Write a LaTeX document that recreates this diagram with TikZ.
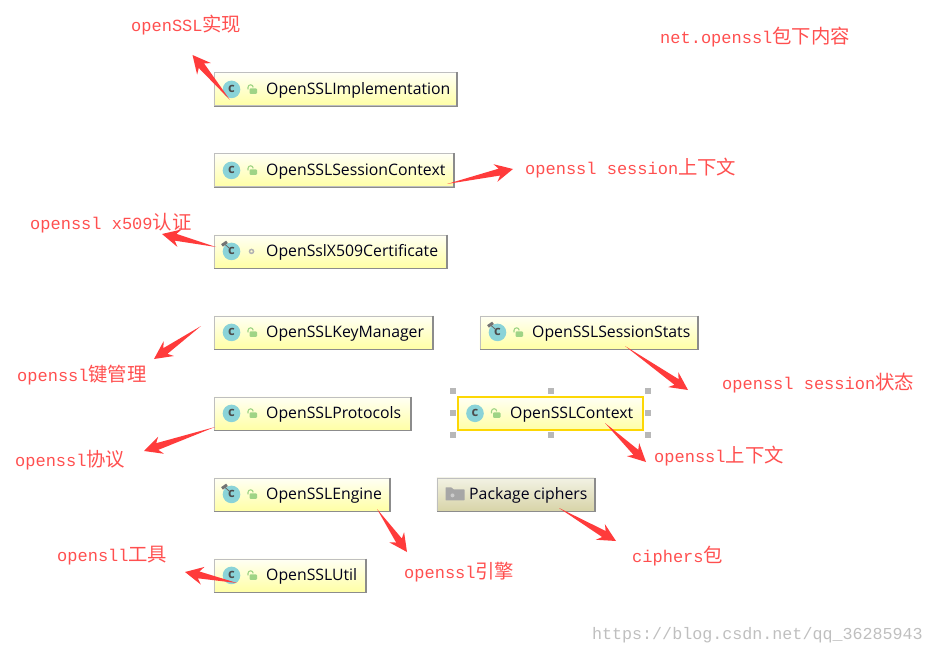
\documentclass[tikz,border=0pt]{standalone}
\usepackage{fontspec}
\setmonofont{Liberation Mono}
\setsansfont{Open Sans}
\newfontfamily\cjk[Scale=1.14]{Noto Sans CJK SC}
\usetikzlibrary{calc}
\definecolor{notered}{HTML}{FF3B3B}
\definecolor{circleblue}{HTML}{8AD3D8}
\definecolor{lockgreen}{HTML}{9FD486}
\definecolor{pkgtop}{HTML}{F2F2E4}
\definecolor{pkgbottom}{HTML}{D8D4A8}
\tikzset{
  classbox/.style={draw=black!25, line width=0.8pt, top color=yellow!4, bottom color=yellow!35, minimum height=33pt, inner sep=0pt, anchor=north west},
  pkgbox/.style={classbox, top color=pkgtop, bottom color=pkgbottom},
  boxname/.style={anchor=west, inner sep=0pt, font=\sffamily\fontsize{15.8}{15.8}\selectfont, text=black!90!blue},
  notelabel/.style={anchor=west, inner sep=0pt, text=notered!90!white, font=\ttfamily\fontsize{17}{17}\selectfont},
  grip/.style={fill=black!28, minimum size=6pt, inner sep=0pt},
  arrowfill/.style={fill=notered},
}
% box with its name, no icons
\newcommand{\plainbox}[5][classbox]{
  \node[#1, minimum width=#5pt] (#2) at (#3,#4) {};
  \draw[black!45, line width=1.4pt] (#2.north east) -- (#2.south east) -- (#2.south west);
}
% class icon and lock
\newcommand{\classicon}[1]{
  \fill[circleblue] ($(#1.west)+(18,0)$) circle (8.8pt);
  \node[inner sep=0pt, text=black!70, font=\sffamily\bfseries\fontsize{13}{13}\selectfont] at ($(#1.west)+(18,-0.5)$) {c};
}
\newcommand{\lockicon}[1]{
  \draw[lockgreen, line width=1.1pt] ($(#1.west)+(34.5,0)$) -- ($(#1.west)+(34.5,-2)$) arc (180:0:2.6pt);
  \fill[lockgreen, rounded corners=1pt] ($(#1.west)+(36,-1)$) rectangle ($(#1.west)+(43.5,4.5)$);
}
\newcommand{\pinicon}[1]{
  \draw[black!60, line width=0.8pt] ($(#1.west)+(11,-7.5)$) -- ($(#1.west)+(16,-3)$);
  \draw[black!55, line width=3pt] ($(#1.west)+(8.5,-6)$) -- ($(#1.west)+(13.5,-9.5)$);
}
% tapered note arrow
\newcommand{\notearrow}[2]{
  \fill[arrowfill] (#1) -- ($(#2)!14pt!(#1)!3.5pt!90:(#1)$) -- ($(#2)!18pt!(#1)!9pt!90:(#1)$) -- (#2)
    -- ($(#2)!18pt!(#1)!9pt!-90:(#1)$) -- ($(#2)!14pt!(#1)!3.5pt!-90:(#1)$) -- cycle;
}
\begin{document}
\begin{tikzpicture}[x=1pt, y=-1pt]
    \useasboundingbox (0,0) rectangle (934,655);

    % Cajas
    \plainbox{impl}{213.5}{72.5}{242.5}
    \plainbox{sessctx}{213.5}{153.5}{239.5}
    \plainbox{xcert}{213.5}{234.5}{232.5}
    \plainbox{keymgr}{213.5}{315.5}{218.5}
    \plainbox{protos}{213.5}{396.5}{196.5}
    \plainbox{engine}{213.5}{477.5}{175.5}
    \plainbox{util}{213.5}{558.5}{151.5}
    \plainbox{stats}{479.5}{315.5}{217.5}
    \plainbox[pkgbox]{ciphers}{436.5}{477.5}{157.5}
    \node[classbox, draw=yellow!75!orange, line width=1.6pt, minimum width=185pt] (context) at (457,396) {};

    % Iconos
    \foreach \n in {impl,sessctx,xcert,keymgr,protos,engine,util,stats,context} {
      \classicon{\n}
    }
    \foreach \n in {impl,sessctx,keymgr,protos,engine,util,stats,context} {
      \lockicon{\n}
    }
    \foreach \n in {xcert,stats,engine} {
      \pinicon{\n}
    }
    \draw[black!30, line width=1.5pt] ($(xcert.west)+(38,0)$) circle (2pt);
    \fill[black!35, rounded corners=0.5pt] ($(ciphers.west)+(9,-7)$) -- ($(ciphers.west)+(15,-7)$) -- ($(ciphers.west)+(17,-5)$) -- ($(ciphers.west)+(28,-5)$) -- ($(ciphers.west)+(28,6)$) -- ($(ciphers.west)+(9,6)$) -- cycle;
    \fill[white!80!black] ($(ciphers.west)+(16,1)$) circle (2pt);

    % Nombres
    \node[boxname] (impltext) at ($(impl.west)+(52.5,1)$) {OpenSSLImplementation};
    \node[boxname] (sessctxtext) at ($(sessctx.west)+(52.5,1)$) {OpenSSLSessionContext};
    \node[boxname] (xcerttext) at ($(xcert.west)+(52.5,1)$) {OpenSslX509Certificate};
    \node[boxname] (keymgrtext) at ($(keymgr.west)+(52.5,1)$) {OpenSSLKeyManager};
    \node[boxname] (protostext) at ($(protos.west)+(52.5,1)$) {OpenSSLProtocols};
    \node[boxname] (enginetext) at ($(engine.west)+(52.5,1)$) {OpenSSLEngine};
    \node[boxname] (utiltext) at ($(util.west)+(52.5,1)$) {OpenSSLUtil};
    \node[boxname] (statstext) at ($(stats.west)+(52.5,1)$) {OpenSSLSessionStats};
    \node[boxname] (contexttext) at ($(context.west)+(53,1)$) {OpenSSLContext};
    \node[boxname] (cipherstext) at ($(ciphers.west)+(32.5,1)$) {Package ciphers};

    % Marcas de seleccion
    \foreach \gx in {453,551,648} {
      \node[grip] at (\gx,391) {};
      \node[grip] at (\gx,435) {};
    }
    \node[grip] (gripleft) at (453,413) {};
    \node[grip] (gripright) at (648,413) {};

    % Notas
    \node[notelabel] (implnote) at (131,25) {openSSL{\cjk 实现}};
    \node[notelabel] (pkgnote) at (660,37) {net.openssl{\cjk 包下内容}};
    \node[notelabel] (sessctxnote) at (525,168) {openssl session{\cjk 上下文}};
    \node[notelabel] (xcertnote) at (30,223) {openssl x509{\cjk 认证}};
    \node[notelabel] (keymgrnote) at (17,375) {openssl{\cjk 键管理}};
    \node[notelabel] (statsnote) at (722,383) {openssl session{\cjk 状态}};
    \node[notelabel] (protosnote) at (15,460) {openssl{\cjk 协议}};
    \node[notelabel] (contextnote) at (654,456) {openssl{\cjk 上下文}};
    \node[notelabel] (ciphersnote) at (632,556) {ciphers{\cjk 包}};
    \node[notelabel] (enginenote) at (404,572) {openssl{\cjk 引擎}};
    \node[notelabel] (utilnote) at (57,556) {opensll{\cjk 工具}};
    \node[anchor=east, inner sep=0pt, text=black!25, font=\ttfamily\fontsize{16.7}{16.7}\selectfont] (mark) at (923,635.5) {https://blog.csdn.net/qq\_36285943};

    % Flechas
    \coordinate (impltail) at (230,100);
    \coordinate (impltip) at (192.5,55);
    \coordinate (sessctxtail) at (447,184);
    \coordinate (sessctxtip) at (513,169);
    \coordinate (xcerttail) at (216,247);
    \coordinate (xcerttip) at (162,234);
    \coordinate (keymgrtail) at (201,326);
    \coordinate (keymgrtip) at (154,359);
    \coordinate (protostail) at (215,427);
    \coordinate (protostip) at (144,451);
    \coordinate (enginetail) at (377,509);
    \coordinate (enginetip) at (407,552);
    \coordinate (utiltail) at (237,583);
    \coordinate (utiltip) at (185,572);
    \coordinate (statstail) at (625,346);
    \coordinate (statstip) at (688,390);
    \coordinate (contexttail) at (605,423);
    \coordinate (contexttip) at (646,462);
    \coordinate (cipherstail) at (559,508);
    \coordinate (cipherstip) at (616,541);
    \foreach \n in {impl,sessctx,xcert,keymgr,protos,engine,util,stats,context,ciphers} {
      \notearrow{\n tail}{\n tip}
    }
\end{tikzpicture}
\end{document}
